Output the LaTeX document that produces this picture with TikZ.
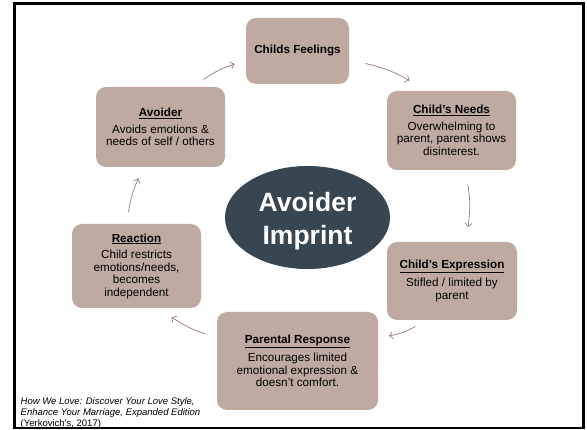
\documentclass[tikz,border=0pt]{standalone}
\usepackage{fontspec}
\setmainfont{Liberation Sans}
\usetikzlibrary{shapes.geometric,arrows.meta}
\definecolor{boxfill}{HTML}{BEAAA0}
\definecolor{ellfill}{HTML}{374650}
\definecolor{arrowc}{HTML}{9A7B72}
\begin{document}
\begin{tikzpicture}[x=1pt,y=-1pt,
  stepbox/.style={rectangle, rounded corners=10pt, fill=boxfill, inner sep=0pt, align=center,
    font=\fontsize{11.7}{12.5}\selectfont},
  cyc/.style={draw=arrowc, line width=0.7pt, -{Straight Barb[length=3.5pt,width=7pt]}},
]
\useasboundingbox (0,0) rectangle (587,430);
\fill[white] (0,0) rectangle (587,430);
\draw[line width=2.8pt] (14.7,3.7) rectangle (583.3,428);

\node[stepbox, minimum width=103pt, minimum height=66pt] (feel) at (297.5,51) {\textbf{Childs Feelings}};
\node[stepbox, minimum width=129pt, minimum height=79pt] (needs) at (451.5,130.5)
  {\underline{\textbf{Child’s Needs}}\\[4pt]Overwhelming to\\parent, parent shows\\disinterest.};
\node[stepbox, minimum width=130pt, minimum height=78pt] (expr) at (452,281)
  {\underline{\textbf{Child’s Expression}}\\[4pt]Stifled / limited by\\parent};
\node[stepbox, minimum width=161pt, minimum height=98pt] (resp) at (297.5,361)
  {\underline{\textbf{Parental Response}}\\[4pt]Encourages limited\\emotional expression \&\\doesn’t comfort.};
\node[stepbox, minimum width=129pt, minimum height=84pt] (react) at (136.5,266)
  {\underline{\textbf{Reaction}}\\[4pt]Child restricts\\emotions/needs,\\becomes\\independent};
\node[stepbox, minimum width=129pt, minimum height=80pt] (avoid) at (160.5,127)
  {\underline{\textbf{Avoider}}\\[4pt]Avoids emotions \&\\needs of self / others};

\node[ellipse, fill=ellfill, minimum width=165pt, minimum height=103pt, inner sep=0pt,
  text=white, align=center, font=\bfseries\fontsize{26.5}{33}\selectfont] (imp) at (307.5,217.5)
  {\rule{0pt}{26.5pt}Avoider\\Imprint};

\coordinate (a1s) at (203.5,79.5); \coordinate (a1e) at (234.5,64);
\coordinate (a2s) at (365.5,63.5); \coordinate (a2e) at (409.5,80.5);
\coordinate (a3s) at (468,185);    \coordinate (a3e) at (468,227);
\coordinate (a4s) at (415.5,326.5);\coordinate (a4e) at (389,336);
\coordinate (a5s) at (205.5,334);  \coordinate (a5e) at (171.5,317);
\coordinate (a6s) at (128.5,212);  \coordinate (a6e) at (138.5,178.5);
\draw[cyc] (a1s) to[bend left=8] (a1e);
\draw[cyc] (a2s) to[bend left=8] (a2e);
\draw[cyc] (a3s) to[bend left=8] (a3e);
\draw[cyc] (a4s) to[bend left=8] (a4e);
\draw[cyc] (a5s) to[bend left=8] (a5e);
\draw[cyc] (a6s) to[bend left=8] (a6e);

\node[anchor=north west, inner sep=0pt, align=left, font=\fontsize{9.5}{11}\selectfont] (src) at (20.5,397)
  {\textit{How We Love: Discover Your Love Style,}\\\textit{Enhance Your Marriage, Expanded Edition}\\(Yerkovich’s, 2017)};
\end{tikzpicture}
\end{document}
